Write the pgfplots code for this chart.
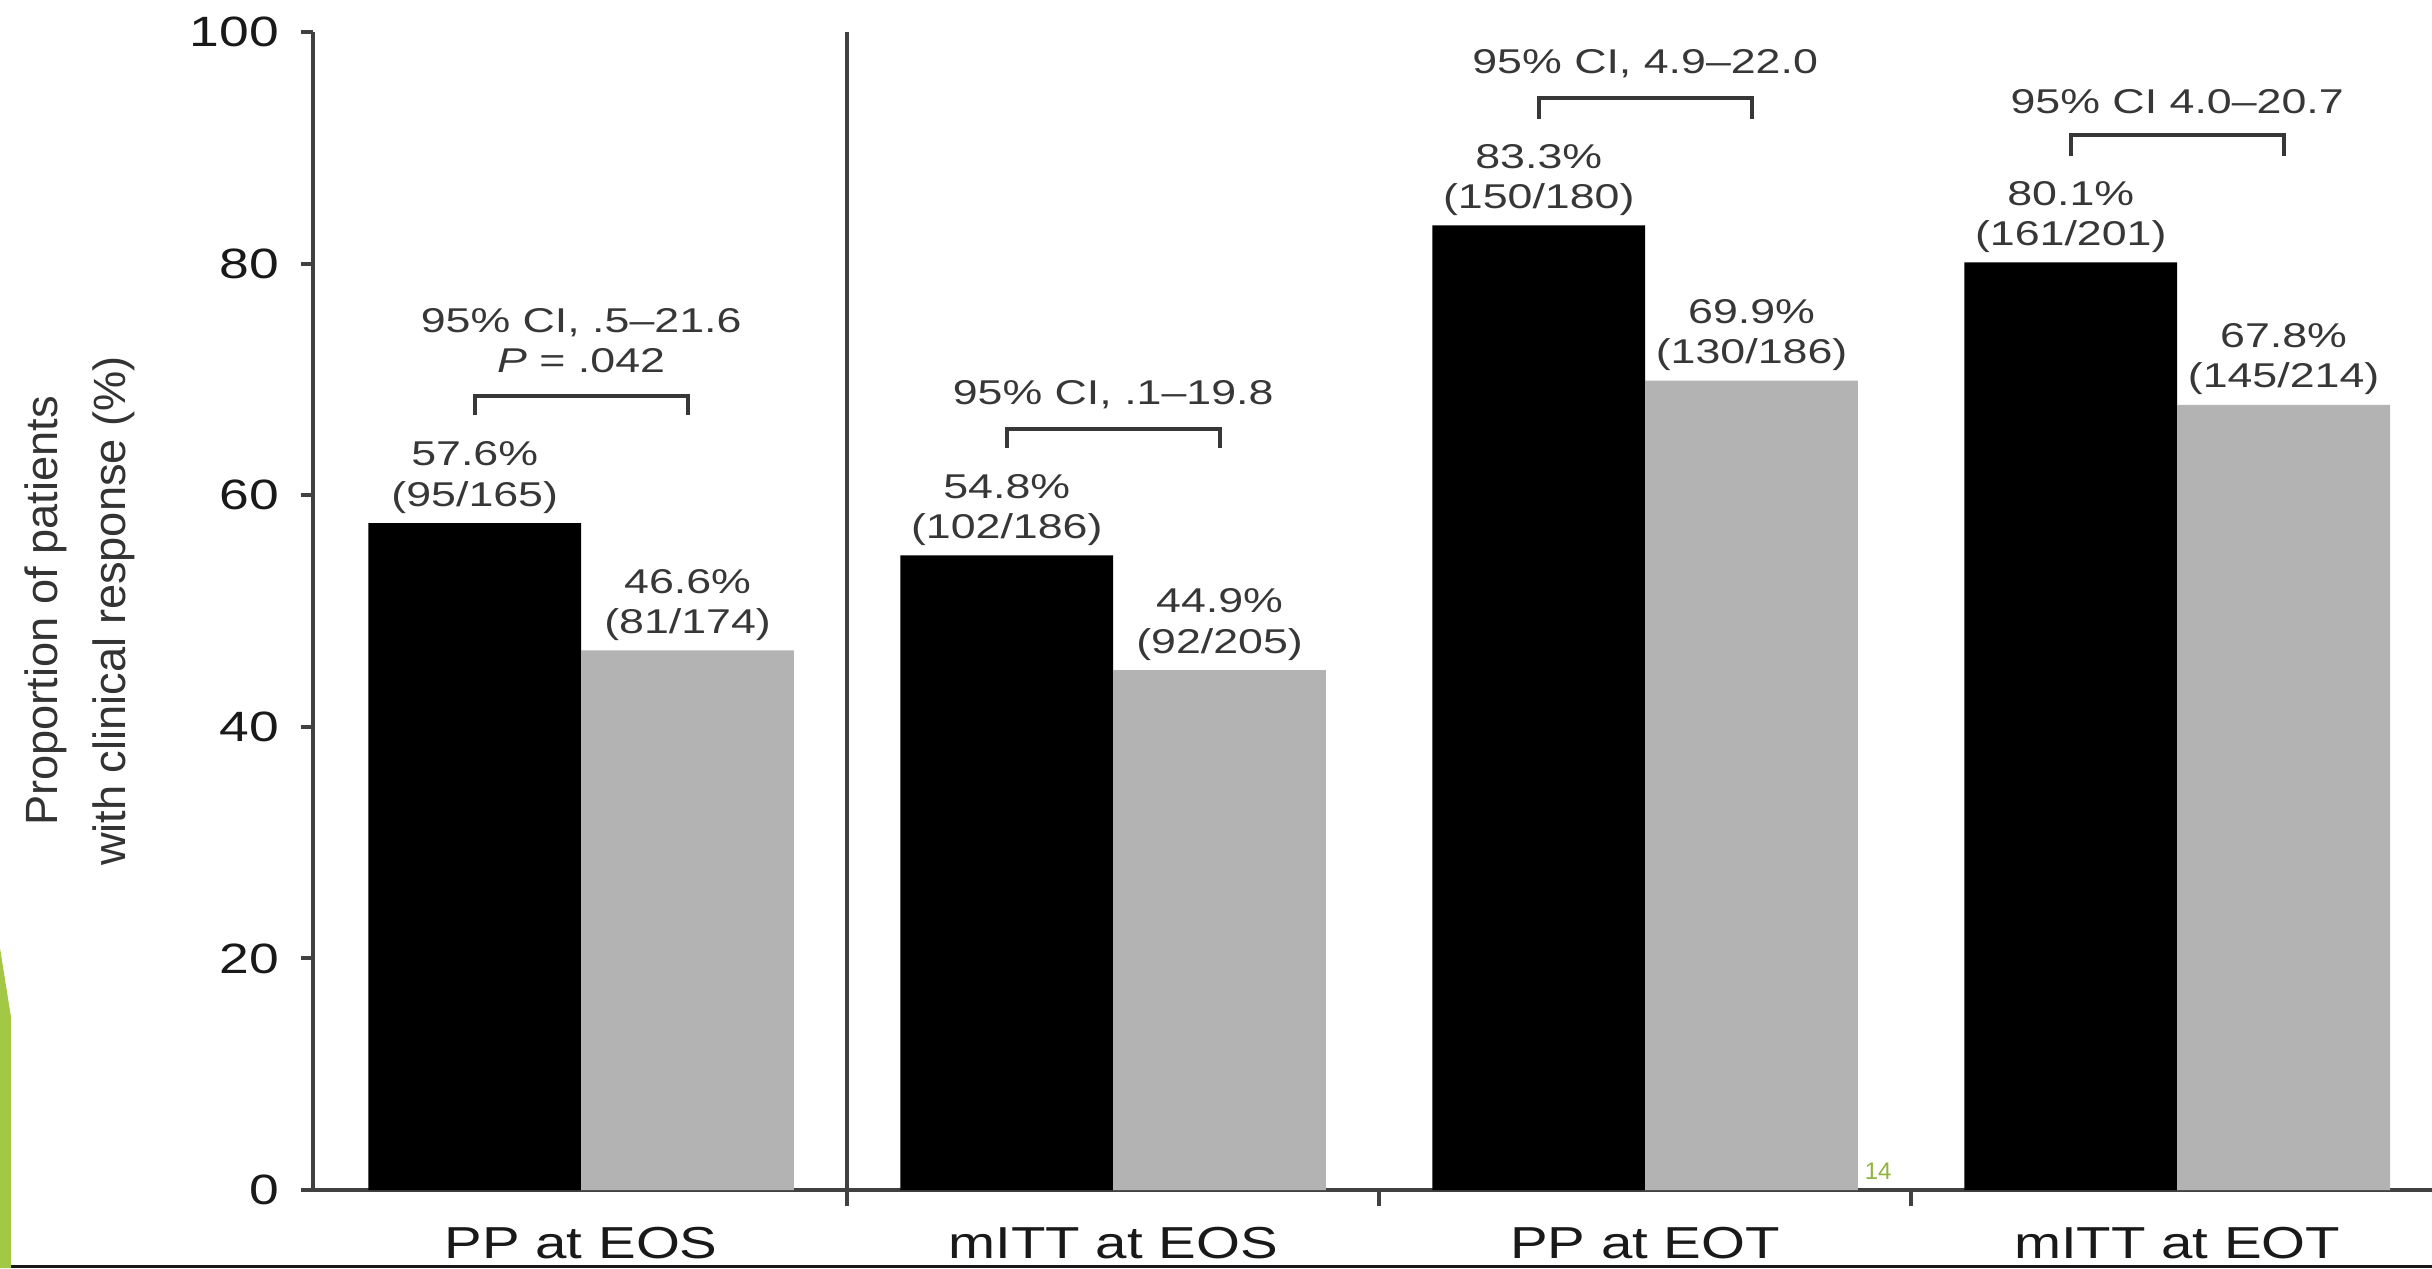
\documentclass[border=0pt]{standalone}
\usepackage{fontspec}
\setmainfont{Liberation Sans}
\usepackage{graphicx}
\usepackage{pgfplots}
\pgfplotsset{compat=1.18}

\definecolor{barg}{RGB}{179,179,179}
\definecolor{txt}{RGB}{55,55,55}
\definecolor{axc}{RGB}{65,65,65}
\definecolor{slidegreen}{RGB}{162,200,70}

% the horizontal texts of the source are set wide, so they are stretched
\newcommand{\sx}[1]{\scalebox{1.26}[1]{#1}}
\newcommand{\sxa}[1]{\scalebox{1.3}[1]{#1}}
\newcommand{\lbl}[2]{\scalebox{1.3}[1]{\begin{tabular}{@{}c@{}}#1\\#2\end{tabular}}}
\newcommand{\annot}{\fontsize{8.6}{10.1}\selectfont}

\tikzset{
  lab/.style={anchor=south, inner sep=0pt, yshift=1pt, font=\annot, text=txt},
  ci/.style={anchor=center, inner sep=0pt, font=\annot, text=txt},
  brk/.style={draw=txt, line width=1pt},
}

\begin{document}
\begin{tikzpicture}
\begin{axis}[
  at={(78.25pt,19.5pt)}, anchor=south west,
  width=529.75pt, height=289.5pt, scale only axis,
  xmin=-0.504, xmax=3.479, ymin=0, ymax=100,
  axis lines*=left,
  axis line style={axc, line width=1.1pt},
  tick align=outside, major tick length=3pt,
  ytick={0,20,...,100},
  yticklabel={\sx{\pgfmathparse{int(\tick)}\pgfmathresult}},
  yticklabel style={font=\fontsize{10.6}{12}\selectfont, text=black!90, xshift=-2pt},
  ytick style={axc, line width=1pt},
  xtick={0,1,2,3},
  xticklabels={\sx{PP at EOS}, \sx{mITT at EOS}, \sx{PP at EOT}, \sx{mITT at EOT}},
  xticklabel style={font=\fontsize{11.2}{13}\selectfont, text=black!90, yshift=-2.8pt},
  xtick style={draw=none},
  extra x ticks={0.5,1.5,2.5},
  extra x tick labels={},
  extra x tick style={xtick style={draw=axc, line width=1pt}, major tick length=4pt},
  ylabel={\begin{tabular}{@{}c@{}}Proportion of patients\\with clinical response (\%)\end{tabular}},
  ylabel style={at={(axis description cs:-0.111,0.5)}, anchor=center,
    font=\fontsize{11.3}{17}\selectfont, text=black!80},
  clip=false,
]
% bars sit at group centre -0.2 (black) and +0.2 (grey)
\addplot[ybar, bar width=0.4, bar shift=0pt, fill=black, draw=none]
  coordinates {(-0.2,57.6) (0.8,54.8) (1.8,83.3) (2.8,80.1)};
\addplot[ybar, bar width=0.4, bar shift=0pt, fill=barg, draw=none]
  coordinates {(0.2,46.6) (1.2,44.9) (2.2,69.9) (3.2,67.8)};

\draw[axc, line width=1pt] (axis cs:0.5,0) -- (axis cs:0.5,100);

\node[lab] at (axis cs:-0.2,57.6) {\lbl{57.6\%}{(95/165)}};
\node[lab] at (axis cs:0.2,46.6) {\lbl{46.6\%}{(81/174)}};
\node[lab] at (axis cs:0.8,54.8) {\lbl{54.8\%}{(102/186)}};
\node[lab] at (axis cs:1.2,44.9) {\lbl{44.9\%}{(92/205)}};
\node[lab] at (axis cs:1.8,83.3) {\lbl{83.3\%}{(150/180)}};
\node[lab] at (axis cs:2.2,69.9) {\lbl{69.9\%}{(130/186)}};
\node[lab] at (axis cs:2.8,80.1) {\lbl{80.1\%}{(161/201)}};
\node[lab] at (axis cs:3.2,67.8) {\lbl{67.8\%}{(145/214)}};

\draw[brk] (axis cs:-0.2,66.9) |- (axis cs:0.2,68.6) -- (axis cs:0.2,66.9);
\draw[brk] (axis cs:0.8,64.1) |- (axis cs:1.2,65.7) -- (axis cs:1.2,64.1);
\draw[brk] (axis cs:1.8,92.5) |- (axis cs:2.2,94.3) -- (axis cs:2.2,92.5);
\draw[brk] (axis cs:2.8,89.3) |- (axis cs:3.2,91.1) -- (axis cs:3.2,89.3);

\node[ci, yshift=1pt] at (axis cs:0,72.7) {\lbl{95\% CI, .5–21.6}{\textit{P} = .042}};
\node[ci] at (axis cs:1,68.7) {\sxa{95\% CI, .1–19.8}};
\node[ci] at (axis cs:2,97.3) {\sxa{95\% CI, 4.9–22.0}};
\node[ci] at (axis cs:3,94.0) {\sxa{95\% CI 4.0–20.7}};

\node[text=slidegreen!90!black, font=\fontsize{6}{7}\selectfont] at (axis cs:2.438,1.6) {14};
\end{axis}
% slide decoration: green strip at left, black rule along the bottom
\fill[slidegreen] (0,0) -- (0,80pt) -- (2.75pt,62.75pt) -- (2.75pt,0) -- cycle;
\fill[black!90] (2.75pt,0) rectangle (608pt,0.75pt);
\pgfresetboundingbox
\path[use as bounding box] (0,0) rectangle (608pt,317pt);
\end{tikzpicture}
\end{document}
